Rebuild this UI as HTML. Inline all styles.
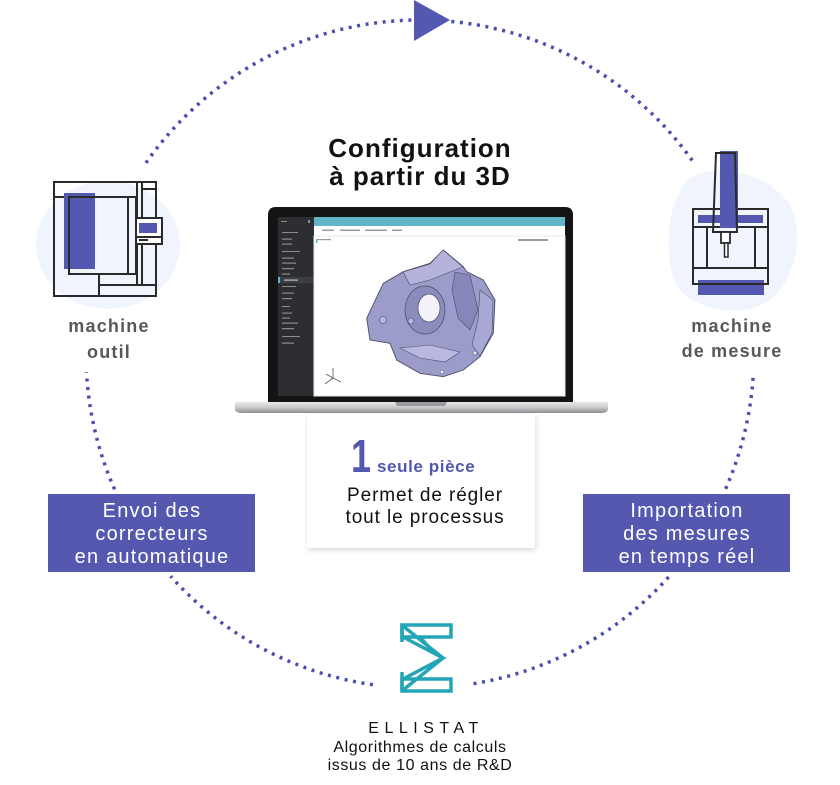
<!DOCTYPE html>
<html><head><meta charset="utf-8"><style>
html,body{margin:0;padding:0;background:#fff;}
body{width:840px;height:785px;overflow:hidden;}
svg{display:block;}
text{font-family:"Liberation Sans",sans-serif;}
</style></head><body>
<svg width="840" height="785" viewBox="0 0 840 785" xmlns="http://www.w3.org/2000/svg">
<defs>
<linearGradient id="base" x1="0" y1="0" x2="0" y2="1">
<stop offset="0" stop-color="#e9e9eb"/><stop offset="0.5" stop-color="#c9c9cc"/><stop offset="1" stop-color="#8e8e92"/>
</linearGradient>
<filter id="sh" x="-10%" y="-10%" width="130%" height="130%"><feDropShadow dx="1" dy="2" stdDeviation="3" flood-color="#000" flood-opacity="0.15"/></filter>
</defs>

<!-- blobs -->
<ellipse cx="108" cy="245" rx="72" ry="64" fill="#f0f4fc"/>
<path d="M690,178 C720,160 770,175 790,205 C805,235 795,280 770,300 C745,318 700,312 680,290 C662,265 665,200 690,178 Z" fill="#f0f4fc"/>

<!-- dotted circle arcs -->
<g fill="none" stroke="#4a4fae" stroke-width="3.5" stroke-dasharray="3 5.6">
<path d="M146,162.9 A334,334 0 0 1 692.2,160.5"/>
<path d="M753.1,377.9 A334,334 0 0 1 724.2,492"/>
<path d="M668.6,577 A334,334 0 0 1 472.2,683.9"/>
<path d="M372.9,684.7 A334,334 0 0 1 170.6,576.2"/>
<path d="M114.6,489.3 A334,334 0 0 1 86.5,372.1"/>
</g>
<polygon points="414,0 414,41 450,20" fill="#5558b0"/>

<!-- Title -->
<text x="420" y="157" text-anchor="middle" font-size="26" font-weight="bold" letter-spacing="1" fill="#111">Configuration</text>
<text x="420" y="185" text-anchor="middle" font-size="26" font-weight="bold" letter-spacing="1" fill="#111">à partir du 3D</text>

<!-- machine outil icon -->
<g fill="none" stroke="#2a2a2a" stroke-width="2">
<rect x="54" y="182" width="102" height="114"/>
<line x1="54" y1="197" x2="137" y2="197"/>
<line x1="137" y1="182" x2="137" y2="285"/>
<line x1="142" y1="182" x2="142" y2="218"/>
<line x1="142" y1="244" x2="142" y2="285"/>
<line x1="142" y1="189" x2="156" y2="189"/>
<line x1="99" y1="274" x2="99" y2="296"/>
<line x1="99" y1="285" x2="156" y2="285"/>
</g>
<rect x="64" y="193" width="31" height="76" fill="#5558b0"/>
<g fill="none" stroke="#2a2a2a" stroke-width="2">
<rect x="69" y="197" width="67" height="77"/>
<line x1="128" y1="197" x2="128" y2="274"/>
<rect x="136" y="218" width="26" height="26" fill="#fff"/>
<line x1="136" y1="237" x2="162" y2="237"/>
</g>
<rect x="139" y="223" width="18" height="10" fill="#5558b0"/>
<rect x="139" y="239" width="9" height="2" fill="#2a2a2a"/>

<!-- machine de mesure icon -->
<rect x="698" y="280" width="66" height="15" fill="#5558b0"/>
<g fill="none" stroke="#2a2a2a" stroke-width="2">
<rect x="693" y="209" width="75" height="75"/>
<line x1="693" y1="227" x2="768" y2="227"/>
<line x1="693" y1="268" x2="768" y2="268"/>
<line x1="707" y1="227" x2="707" y2="268"/>
<line x1="755" y1="227" x2="755" y2="268"/>
</g>
<rect x="698" y="215" width="65" height="8" fill="#5558b0"/>
<polygon points="720,151 738,151 738,228 720,228" fill="#5558b0"/>
<polygon points="716,153 735,153 737,232 713,232" fill="none" stroke="#2a2a2a" stroke-width="2"/>
<rect x="721" y="232" width="9" height="11" fill="#fff" stroke="#2a2a2a" stroke-width="1.8"/>
<rect x="724.5" y="243" width="3.5" height="14" fill="#fff" stroke="#2a2a2a" stroke-width="1.5"/>

<!-- machine labels -->
<g font-size="18" font-weight="bold" fill="#58585a" text-anchor="middle" letter-spacing="1.2">
<text x="109" y="332">machine</text>
<text x="109" y="358">outil</text>
<text x="732" y="332">machine</text>
<text x="732" y="357">de mesure</text>
</g>

<!-- laptop -->
<path d="M276,207 L565,207 Q573,207 573,215 L573,403 L268,403 L268,215 Q268,207 276,207 Z" fill="#141414"/>
<rect x="278" y="217" width="287" height="179" fill="#ffffff"/>
<rect x="278" y="217" width="36" height="179" fill="#2c2e31"/>
<rect x="314" y="217" width="251" height="9" fill="#62b4c8"/>
<rect x="314" y="226" width="251" height="10" fill="#ffffff"/>
<line x1="314" y1="236" x2="565" y2="236" stroke="#e2e2e2" stroke-width="1"/>
<g fill="#9a9a9a">
<rect x="322" y="229.5" width="12" height="1.5"/><rect x="340" y="229.5" width="20" height="1.5"/><rect x="365" y="229.5" width="22" height="1.5"/><rect x="392" y="229.5" width="10" height="1.5"/>
<rect x="317" y="239" width="14" height="1.2"/>
<rect x="518" y="239" width="30" height="2"/>
</g>
<rect x="316" y="239" width="1.5" height="4" fill="#62b4c8"/>
<rect x="314" y="236" width="251" height="160" fill="none" stroke="#e8e8e8" stroke-width="1"/>
<g fill="#8a8c90">
<rect x="281" y="221" width="6" height="1"/><rect x="308" y="220" width="2" height="3"/>
<rect x="282" y="232" width="16" height="1"/>
<rect x="282" y="238.5" width="10" height="1.2"/><rect x="282" y="243.5" width="10" height="1.2"/>
<rect x="282" y="251" width="18" height="1"/>
<rect x="282" y="257.5" width="12" height="1.2"/><rect x="282" y="262.5" width="14" height="1.2"/><rect x="282" y="268" width="12" height="1.2"/><rect x="282" y="273.5" width="8" height="1.2"/>
<rect x="282" y="286" width="14" height="1"/>
<rect x="282" y="292.5" width="12" height="1.2"/><rect x="282" y="298" width="10" height="1.2"/>
<rect x="282" y="306" width="8" height="1"/>
<rect x="282" y="312.5" width="10" height="1.2"/><rect x="282" y="317.5" width="8" height="1.2"/><rect x="282" y="322.5" width="16" height="1.2"/><rect x="282" y="328" width="12" height="1.2"/>
<rect x="282" y="336" width="18" height="1"/>
<rect x="282" y="342.5" width="12" height="1.2"/>
</g>
<rect x="279" y="277" width="34" height="6" fill="#3b3e42"/>
<rect x="278" y="277" width="2" height="6" fill="#62b4c8"/>
<rect x="284" y="279.5" width="14" height="1.2" fill="#c0c0c0"/>
<g stroke="#555" stroke-width="0.8" fill="none">
<line x1="333" y1="368" x2="333" y2="378"/><line x1="333" y1="378" x2="341" y2="382"/><line x1="333" y1="378" x2="325" y2="384"/><line x1="333" y1="378" x2="326" y2="374"/>
</g>
<!-- 3D part -->
<polygon points="366.7,318.3 383.3,283.3 403.3,271.7 430,263.3 443.3,250 463.3,266.7 466.7,271.7 483.3,280 495,300 493.3,333.3 480,356.7 463.3,370 443.3,376.7 420,373.3 396.7,360 390,343.3 370,340" fill="#9c9cca" stroke="#4c4c6a" stroke-width="0.9"/>
<polygon points="403,272 430,264 443,250 463,267 450,272 430,280 410,285" fill="#b3b3dc" stroke="#4c4c6a" stroke-width="0.6"/>
<polygon points="455,272 470,275 478,310 470,330 458,318 452,290" fill="#8686b8" stroke="#4c4c6a" stroke-width="0.6"/>
<polygon points="480,290 493,300 492,333 480,356 472,345 478,320" fill="#a8a8d4" stroke="#4c4c6a" stroke-width="0.6"/>
<ellipse cx="425" cy="310" rx="20" ry="24" fill="#8c8cbc" stroke="#4c4c6a" stroke-width="0.7"/>
<ellipse cx="429" cy="308" rx="11" ry="14" fill="#f2f2f8" stroke="#4c4c6a" stroke-width="0.7"/>
<polygon points="400,348 430,345 460,352 445,362 420,358" fill="#b8b8e0" stroke="#4c4c6a" stroke-width="0.6"/>
<circle cx="383" cy="320" r="3.5" fill="#b6b6de" stroke="#4c4c6a" stroke-width="0.6"/>
<circle cx="411" cy="321" r="3" fill="#b6b6de" stroke="#4c4c6a" stroke-width="0.6"/>
<circle cx="475" cy="353" r="2" fill="#e8e8f4" stroke="#4c4c6a" stroke-width="0.5"/>
<circle cx="442" cy="372" r="2" fill="#e8e8f4" stroke="#4c4c6a" stroke-width="0.5"/>
<!-- base -->
<path d="M235,402 L608,402 L608,409 Q608,413 600,413 L243,413 Q235,413 235,409 Z" fill="url(#base)"/>
<path d="M395,402 L447,402 L445,406 L397,406 Z" fill="#9a9a9e"/>

<!-- card -->
<rect x="307" y="414" width="228" height="134" fill="#fff" filter="url(#sh)"/>
<text x="0" y="472" font-size="46" font-weight="bold" fill="#5257b0" text-anchor="middle" transform="translate(361,0) scale(0.78,1)">1</text>
<text x="377" y="472" font-size="17" font-weight="bold" fill="#5257b0" letter-spacing="0.6">seule pièce</text>
<text x="425" y="501" text-anchor="middle" font-size="19" fill="#111" letter-spacing="0.9">Permet de régler</text>
<text x="425" y="523" text-anchor="middle" font-size="19" fill="#111" letter-spacing="0.9">tout le processus</text>

<!-- boxes -->
<rect x="48" y="494" width="207" height="78" fill="#5558ae"/>
<rect x="583" y="494" width="207" height="78" fill="#5558ae"/>
<g font-size="20" fill="#fff" text-anchor="middle" letter-spacing="1.2">
<text x="152" y="517">Envoi des</text>
<text x="152" y="540">correcteurs</text>
<text x="152" y="563">en automatique</text>
<text x="687" y="517">Importation</text>
<text x="687" y="540">des mesures</text>
<text x="687" y="563">en temps réel</text>
</g>

<!-- Ellistat logo -->
<g fill="none" stroke="#22a6b7" stroke-width="3.5" stroke-linejoin="miter">
<rect x="402" y="625" width="49" height="12"/>
<rect x="402" y="679" width="49" height="12"/>
<line x1="402" y1="625" x2="402" y2="642"/>
<line x1="402" y1="691" x2="402" y2="672"/>
<polyline points="403,637 443,658 403,679"/>
<polyline points="403,626 443,658"/>
<polyline points="420,637 433,652"/>
<polyline points="443,658 403,690"/>
</g>
<text x="426" y="733" text-anchor="middle" font-size="16" fill="#111" letter-spacing="5.5">ELLISTAT</text>
<text x="420" y="752" text-anchor="middle" font-size="16" fill="#111" letter-spacing="0.6">Algorithmes de calculs</text>
<text x="420" y="770" text-anchor="middle" font-size="16" fill="#111" letter-spacing="0.6">issus de 10 ans de R&amp;D</text>
</svg>
</body></html>
